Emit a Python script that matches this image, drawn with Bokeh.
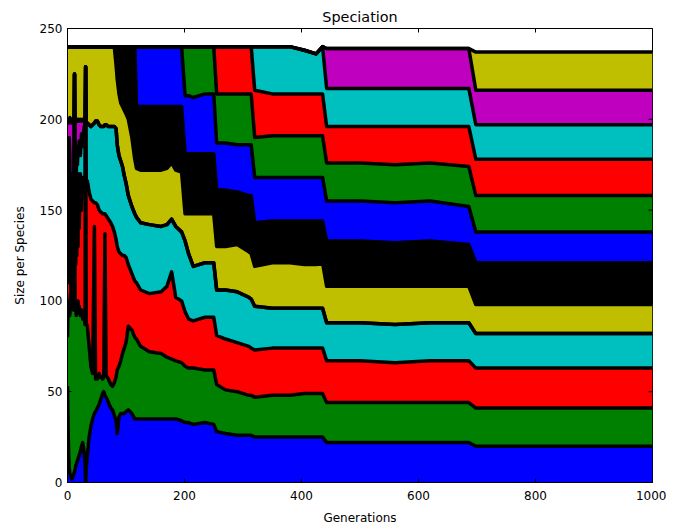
import math
from bokeh.plotting import figure
from bokeh.models import ColumnDataSource, Range1d, FixedTicker
from bokeh.embed import file_html
from bokeh.resources import INLINE

GENS = [0, 1, 2, 3, 4, 5, 6, 7, 8, 9,
        10, 11, 12, 13, 14, 15, 16, 17, 18, 19,
        20, 22, 24, 26, 28, 30, 31, 32, 34, 37,
        40, 43, 46, 48, 51, 54, 57, 60, 62, 64,
        66, 70, 74, 77, 80, 83, 85, 88, 91, 94,
        97, 100, 104, 110, 115, 118, 125, 140, 160, 170,
        178, 185, 195, 201, 207, 215, 235, 250, 255, 270,
        290, 310, 314, 320, 350, 380, 405, 425, 436, 443,
        500, 560, 620, 686, 698, 760, 820, 880, 940, 1000]

BLUE0 = [53, 30, 15, 8, 5, 4, 3, 2, 2, 3,
         4, 5, 6, 7, 9, 10, 11, 12, 13, 14,
         15, 17, 20, 22, 18, 10, 0, 8, 15, 25,
         31, 35, 38, 39, 41, 43, 46, 49, 50, 48,
         47, 44, 41, 40, 37, 34, 27, 36, 38, 38,
         38, 39, 40, 38, 35, 35, 35, 35, 35, 35,
         35, 35, 34, 33, 33, 32, 33, 32, 28, 27,
         26, 26, 26, 25, 25, 25, 25, 25, 25, 22,
         22, 22, 22, 22, 20, 20, 20, 20, 20, 20]
GREEN1 = [27, 70, 80, 92, 87, 100, 95, 98, 94, 97,
          91, 93, 219, 88, 91, 82, 89, 82, 87, 79,
          82, 75, 75, 68, 74, 77, 229, 80, 71, 50,
          33, 25, 103, 18, 16, 17, 12, 8, 8, 89,
          12, 13, 13, 13, 18, 24, 35, 28, 29, 33,
          36, 38, 46, 46, 45, 44, 40, 37, 36, 34,
          33, 32, 32, 31, 30, 31, 29, 30, 26, 24,
          24, 22, 22, 22, 23, 23, 24, 24, 24, 22,
          22, 22, 22, 22, 21, 21, 21, 21, 21, 21]
RED2 = [40, 15, 70, 10, 78, 11, 6, 60, 19, 50,
        35, 42, 0, 55, 20, 68, 25, 71, 30, 77,
        43, 78, 55, 78, 68, 78, 0, 77, 80, 85,
        92, 95, 13, 97, 96, 90, 91, 91, 90, 11,
        88, 88, 89, 88, 83, 76, 68, 63, 59, 54,
        51, 47, 34, 31, 31, 31, 31, 32, 34, 39,
        48, 35, 34, 30, 27, 26, 29, 29, 27, 28,
        27, 27, 26, 26, 26, 26, 25, 25, 25, 23,
        23, 22, 23, 23, 22, 22, 22, 22, 22, 22]
CYAN3 = [40, 60, 10, 80, 10, 11, 22, 10, 35, 10,
         17, 7, 0, 10, 55, 10, 60, 10, 55, 10,
         48, 10, 42, 17, 35, 33, 0, 33, 32, 37,
         40, 42, 44, 45, 46, 47, 47, 48, 48, 49,
         50, 51, 53, 55, 58, 61, 56, 53, 51, 49,
         44, 41, 38, 37, 37, 36, 37, 38, 36, 34,
         29, 39, 38, 39, 36, 30, 30, 30, 25, 27,
         28, 27, 27, 24, 22, 22, 22, 22, 22, 21,
         21, 21, 21, 21, 19, 19, 19, 19, 19, 19]
MAGENTA4 = [40, 23, 25, 8, 21, 73, 74, 28, 50, 39,
            53, 52, 0, 40, 24, 30, 14, 25, 14, 20,
            11, 20, 7, 15, 4] + [0] * 65
YELLOW5 = [40, 42, 40, 42, 39, 41, 40, 42, 40, 41,
           40, 41, 15, 40, 41, 40, 41, 40, 41, 40,
           41, 40, 41, 40, 41, 42, 11, 42, 42, 43,
           44, 43, 42, 41, 41, 43, 44, 44, 44, 43,
           43, 44, 44, 44, 44, 35, 36, 34, 32, 33,
           36, 38, 42, 38, 30, 27, 29, 30, 31, 31,
           31, 31, 33, 15, 22, 29, 27, 27, 24, 24,
           26, 25, 25, 22, 25, 25, 24, 24, 25, 20,
           20, 21, 20, 20, 16, 16, 16, 16, 16, 16]
BLACK6 = [0] * 45 + [10, 18, 26, 31, 33,
                     35, 37, 40, 50, 62, 34, 35, 35, 35, 34,
                     31, 35, 36, 33, 33, 33, 33, 33, 31, 31,
                     29, 31, 32, 24, 23, 23, 24, 24, 23, 25,
                     25, 24, 25, 23, 23, 23, 23, 23, 23, 23]
BLUE7 = [0] * 55 + [33, 33, 33, 33, 33,
                    33, 33, 33, 32, 32, 31, 33, 33, 26, 26,
                    26, 28, 28, 25, 24, 24, 24, 24, 24, 22,
                    22, 22, 22, 21, 17, 17, 17, 17, 17, 17]
GREEN8 = [0] * 63 + [27, 27, 28, 26, 26, 27, 27,
                     28, 28, 28, 22, 23, 23, 23, 23, 23, 21,
                     21, 21, 21, 22, 20, 20, 20, 20, 20, 20]
RED9 = [0] * 68 + [26, 26,
                   26, 26, 26, 26, 23, 23, 23, 23, 23, 20,
                   20, 21, 20, 22, 20, 20, 20, 20, 20, 20]
CYAN10 = [0] * 73 + [24, 26, 26, 24, 22, 26, 21,
                     21, 21, 21, 21, 19, 19, 19, 19, 19, 19]
MAGENTA11 = [0] * 79 + [22,
                        22, 22, 22, 22, 19, 19, 19, 19, 19, 19]
YELLOW12 = [0] * 84 + [21, 21, 21, 21, 21, 21]

SERIES = [BLUE0, GREEN1, RED2, CYAN3, MAGENTA4, YELLOW5, BLACK6,
          BLUE7, GREEN8, RED9, CYAN10, MAGENTA11, YELLOW12]
COLORS = ["#0000ff", "#008000", "#ff0000", "#00bfbf", "#bf00bf", "#bfbf00", "#000000",
          "#0000ff", "#008000", "#ff0000", "#00bfbf", "#bf00bf", "#bfbf00"]

X_TICKS = [0, 200, 400, 600, 800, 1000]
Y_TICKS = [0, 50, 100, 150, 200, 250]
X_MAX = 1000
Y_MAX = 250

names = ["s%d" % i for i in range(len(SERIES))]
data = {"gen": GENS}
for n, s in zip(names, SERIES):
    data[n] = s
src = ColumnDataSource(data)

p = figure(frame_width=585, frame_height=454,
           x_range=Range1d(0, X_MAX), y_range=Range1d(0, Y_MAX),
           output_backend="svg", toolbar_location=None,
           title="Speciation",
           min_border_left=67, min_border_right=14,
           min_border_top=28, min_border_bottom=2)

p.varea_stack(stackers=names, x="gen", color=COLORS, source=src)
p.vline_stack(names, x="gen", source=src, line_color="black", line_width=3.5,
              line_join="round")

# inward ticks on the top and right edges of the frame
p.scatter(x=X_TICKS, y=[Y_MAX] * len(X_TICKS), marker="dash", size=8,
          angle=math.pi / 2, line_color="black", line_width=1)
p.scatter(x=[X_MAX] * len(Y_TICKS), y=Y_TICKS, marker="dash", size=8,
          line_color="black", line_width=1)

FONT = "DejaVu Sans"
p.title.text_font = FONT
p.title.text_font_size = "14.4px"
p.title.text_font_style = "normal"
p.title.align = "center"
p.title.text_color = "black"
p.title.standoff = 8

p.xgrid.visible = False
p.ygrid.visible = False
p.outline_line_color = "black"
p.outline_line_width = 1
p.background_fill_color = "white"
p.border_fill_color = "white"

for ax, ticks in ((p.xaxis[0], X_TICKS), (p.yaxis[0], Y_TICKS)):
    ax.ticker = FixedTicker(ticks=ticks)
    ax.major_tick_in = 4
    ax.major_tick_out = 0
    ax.minor_tick_line_color = None
    ax.axis_line_color = "black"
    ax.major_label_text_font = FONT
    ax.major_label_text_font_size = "12px"
    ax.major_label_text_color = "black"
    ax.axis_label_text_font = FONT
    ax.axis_label_text_font_size = "12px"
    ax.axis_label_text_font_style = "normal"
    ax.axis_label_text_color = "black"

p.xaxis.axis_label = "Generations"
p.yaxis.axis_label = "Size per Species"
p.xaxis.major_label_standoff = 8
p.xaxis.axis_label_standoff = 8
p.yaxis.axis_label_standoff = 10

open("out.html", "w").write(file_html(p, INLINE))
